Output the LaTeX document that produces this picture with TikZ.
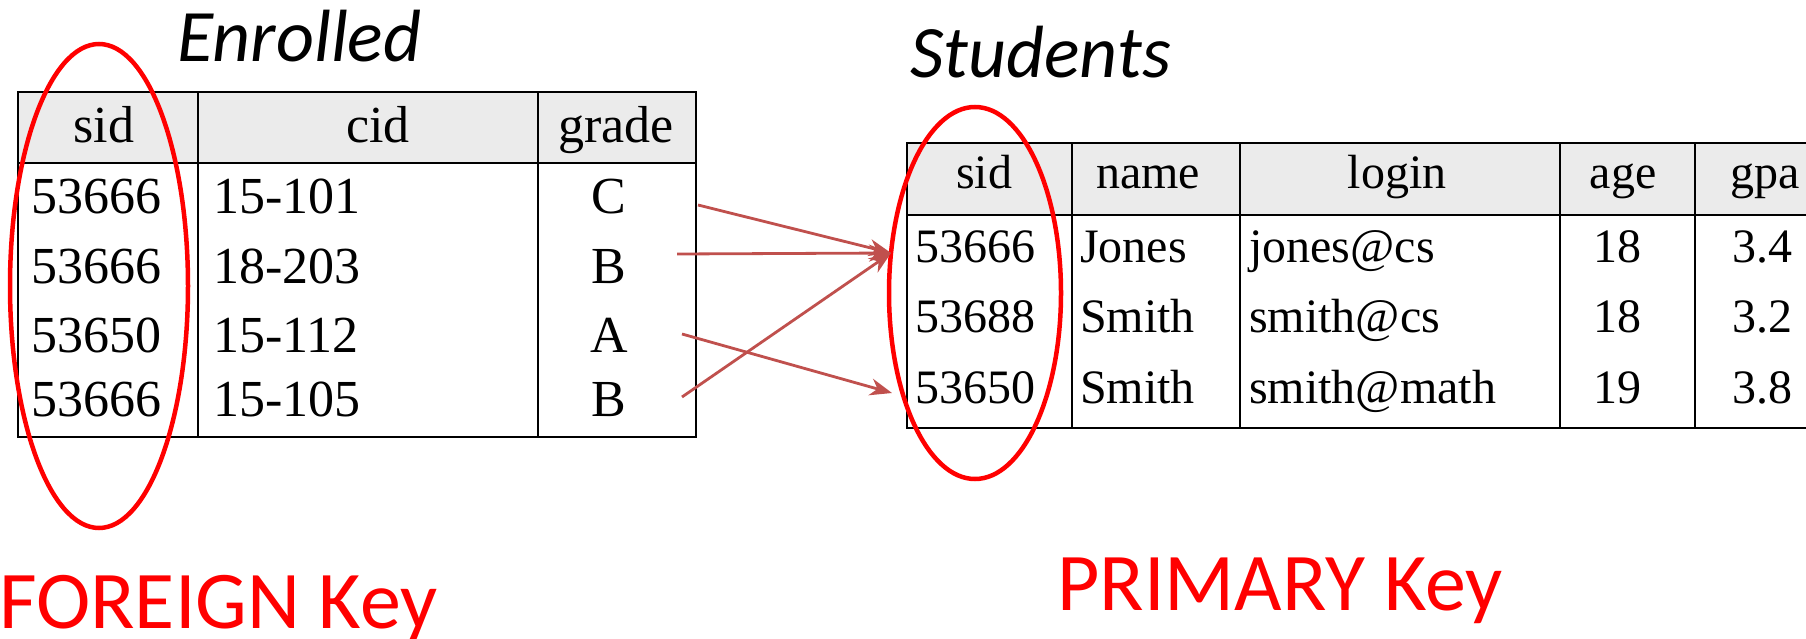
\documentclass[tikz,border=0pt]{standalone}
\usepackage{fontspec}
\setmainfont{Liberation Serif}
\newfontfamily\calfont{Carlito}
\usetikzlibrary{arrows.meta}
\definecolor{arrowred}{RGB}{192,80,77}
\definecolor{hdrgray}{RGB}{235,235,235}
\begin{document}
\begin{tikzpicture}[x=1pt,y=-1pt,
  etext/.style={inner sep=0pt, font=\fontsize{52}{60}\selectfont},
  stext/.style={inner sep=0pt, font=\fontsize{48}{56}\selectfont},
  titletext/.style={inner sep=0pt, anchor=base west, font=\calfont\itshape\fontsize{74}{80}\selectfont},
  keytext/.style={inner sep=0pt, anchor=base west, text=red, font=\calfont\fontsize{82}{90}\selectfont},
  outer/.style={line width=2.5pt, black},
  inner/.style={line width=1.6pt, black},
  keyring/.style={draw=red, line width=4.5pt},
  fkarrow/.style={draw=arrowred, line width=2.8pt, -{Stealth[length=22pt, width=17pt, inset=7pt]}}]
\useasboundingbox (0,0) rectangle (1806,639);
\clip (0,0) rectangle (1806,639);
\fill[white] (0,0) rectangle (1806,639);

% ---------- Enrolled table ----------
\fill[hdrgray] (18,92) rectangle (696,163);
\draw[inner] (198,92) -- (198,437);
\draw[inner] (538,92) -- (538,437);
\draw[outer] (18,163) -- (696,163);
\draw[outer] (18,92) rectangle (696,437);

\node[etext, anchor=base] (eh1) at (104,143) {sid};
\node[etext, anchor=base] (eh2) at (378,143) {cid};
\node[etext, anchor=base] (eh3) at (616,143) {grade};

\node[etext, anchor=base west] (e11) at (31,213) {53666};
\node[etext, anchor=base west] (e21) at (31,283) {53666};
\node[etext, anchor=base west] (e31) at (31,352) {53650};
\node[etext, anchor=base west] (e41) at (31,416) {53666};
\node[etext, anchor=base west] (e12) at (213,213) {15-101};
\node[etext, anchor=base west] (e22) at (213,283) {18-203};
\node[etext, anchor=base west] (e32) at (213,352) {15-112};
\node[etext, anchor=base west] (e42) at (213,416) {15-105};
\node[etext, anchor=base] (e13) at (609,213) {C};
\node[etext, anchor=base] (e23) at (609,283) {B};
\node[etext, anchor=base] (e33) at (609,352) {A};
\node[etext, anchor=base] (e43) at (609,416) {B};

% ---------- Students table ----------
\fill[hdrgray] (907,143) rectangle (1830,215);
\draw[inner] (1072,143) -- (1072,428);
\draw[inner] (1240,143) -- (1240,428);
\draw[inner] (1560,143) -- (1560,428);
\draw[inner] (1695,143) -- (1695,428);
\draw[outer] (907,215) -- (1830,215);
\draw[outer] (1830,143) -- (907,143) -- (907,428) -- (1830,428);

\node[stext, anchor=base] (sh1) at (984,189) {sid};
\node[stext, anchor=base] (sh2) at (1148,189) {name};
\node[stext, anchor=base] (sh3) at (1397,189) {login};
\node[stext, anchor=base] (sh4) at (1623,189) {age};
\node[stext, anchor=base] (sh5) at (1765,189) {gpa};

\node[stext, anchor=base west] (s11) at (915,262) {53666};
\node[stext, anchor=base west] (s21) at (915,332) {53688};
\node[stext, anchor=base west] (s31) at (915,403) {53650};
\node[stext, anchor=base west] (s12) at (1080,262) {Jones};
\node[stext, anchor=base west] (s22) at (1080,332) {Smith};
\node[stext, anchor=base west] (s32) at (1080,403) {Smith};
\node[stext, anchor=base west] (s13) at (1249,262) {jones@cs};
\node[stext, anchor=base west] (s23) at (1249,332) {smith@cs};
\node[stext, anchor=base west] (s33) at (1249,403) {smith@math};
\node[stext, anchor=base] (s14) at (1617,262) {18};
\node[stext, anchor=base] (s24) at (1617,332) {18};
\node[stext, anchor=base] (s34) at (1617,403) {19};
\node[stext, anchor=base] (s15) at (1762,262) {3.4};
\node[stext, anchor=base] (s25) at (1762,332) {3.2};
\node[stext, anchor=base] (s35) at (1762,403) {3.8};

% ---------- titles ----------
\node[titletext] (enrolled) at (177,62) {Enrolled};
\node[titletext] (students) at (910,78) {Students};

% ---------- key rings ----------
\draw[keyring] (99,286) ellipse [x radius=89, y radius=242];
\draw[keyring] (975,293) ellipse [x radius=86, y radius=186];

\node[keytext] (fk) at (-1,628) {FOREIGN Key};
\node[keytext] (pk) at (1057,610) {PRIMARY Key};

% ---------- foreign key arrows ----------
\coordinate (a1) at (698,205);
\coordinate (a2) at (677,254);
\coordinate (a3) at (682,334);
\coordinate (a4) at (682,397);
\coordinate (t1) at (891,253);
\coordinate (t3) at (892,393);
\draw[fkarrow] (a1) -- (t1);
\draw[fkarrow] (a2) -- (t1);
\draw[fkarrow] (a3) -- (t3);
\draw[fkarrow] (a4) -- (t1);
\end{tikzpicture}
\end{document}
